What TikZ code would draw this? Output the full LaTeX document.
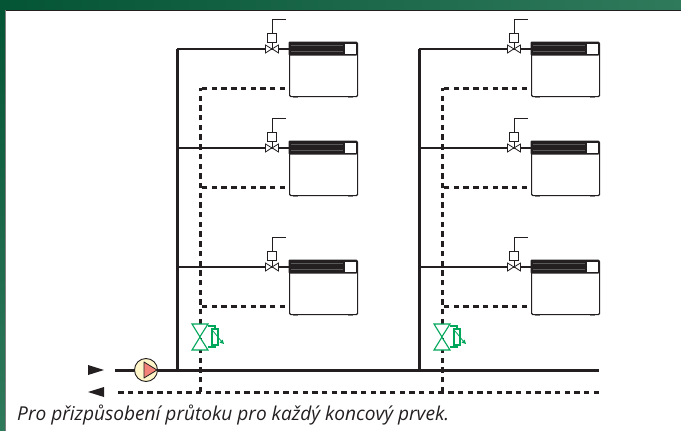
\documentclass[tikz,border=0pt]{standalone}
\usepackage{fontspec}
\setmainfont{Open Sans}
\usetikzlibrary{calc,positioning}
\definecolor{framedark}{RGB}{4,84,54}
\definecolor{framelight}{RGB}{48,122,92}
\definecolor{pipeblack}{RGB}{35,31,32}
\definecolor{valvegreen}{RGB}{0,166,90}
\definecolor{pumpcream}{RGB}{255,245,200}
\definecolor{pumpred}{RGB}{243,130,120}
\tikzset{
    supply/.style={draw=pipeblack, line width=3pt},
    return/.style={draw=pipeblack, line width=3pt, dash pattern=on 5.4pt off 4.3pt},
    thinline/.style={draw=pipeblack, line width=0.8pt},
    unitbox/.style={draw=pipeblack, line width=1.2pt, fill=white, rounded corners=1.2pt,
        minimum width=68pt, minimum height=54pt, anchor=north west, inner sep=0pt},
    flowarrow/.style={fill=pipeblack, draw=none},
    greenline/.style={draw=valvegreen, line width=1.1pt},
}
\begin{document}
\begin{tikzpicture}[x=1pt,y=-1pt]
   \useasboundingbox (0,0) rectangle (681,431);
   % frame
   \shade[left color=framedark, right color=framelight] (0,0) rectangle (681,10);
   \shade[top color=framedark, bottom color=framelight] (0,10) rectangle (5,431);
   \draw[pipeblack, line width=0.8pt] (5,10.4) -- (681,10.4);
   \draw[gray, line width=0.8pt] (5.4,10.4) -- (5.4,431);
   % main lines
   \coordinate (mainin) at (115,370);
   \coordinate (mainend) at (599,370);
   \coordinate (backout) at (115,392);
   \coordinate (backend) at (599,392);
   \draw[supply] (mainin) -- (mainend);
   \draw[return] (backend) -- (backout);
   \foreach \c/\xo in {a/0,b/242} {
     \begin{scope}[shift={(\xo,0)}]
       \coordinate (tee\c) at (177,370);
       \coordinate (drop\c) at (200,392);
       \foreach \r/\yo in {1/0,2/99,3/218} {
         \begin{scope}[shift={(0,\yo)}]
           \node[unitbox] (box\c\r) at (289,42) {};
           \coordinate (rise\c\r) at (177,49);
           \coordinate (ret\c\r) at (200,88);
           \node[inner sep=0pt, minimum size=0pt] (valve\c\r) at (272,49) {};
           \node[draw=pipeblack, line width=0.8pt, fill=white, inner sep=0pt, minimum size=9pt,
                 above=6pt of valve\c\r] (act\c\r) {};
           \coordinate (stem\c\r) at (272,19);
           \coordinate (tag\c\r) at (286,19);
           \draw[supply, line width=2.9pt] (rise\c\r) -- (valve\c\r) -- (box\c\r.west |- valve\c\r);
           \draw[thinline] (valve\c\r) -- (act\c\r);
           \draw[thinline] (act\c\r) -- (stem\c\r) -- (tag\c\r);
           \draw[thinline, fill=white] (valve\c\r) -- ++(-6.5,-4) -- ++(0,8) -- cycle;
           \draw[thinline, fill=white] (valve\c\r) -- ++(6.5,-4) -- ++(0,8) -- cycle;
           \draw[return] (ret\c\r -| box\c\r.west) ++(-4,0) -- (ret\c\r);
           % casing
           \fill[pipeblack, rounded corners=1.2pt] (288.5,41.5) rectangle (357.5,55.5);
           \draw[gray!70!black, line width=0.35pt] (291,45) -- (343,45);
           \draw[gray!70!black, line width=0.35pt] (291,51) -- (343,51);
           \fill[white] (344.5,44) rectangle (355.5,54);
           \fill[gray] (293,96.6) rectangle (298,98);
           \fill[gray] (348,96.6) rectangle (353,98);
         \end{scope}
       }
       \draw[supply] (tee\c) -- (rise\c3) -- (rise\c2) -- (rise\c1);
       \draw[return] (drop\c) -- (ret\c3) -- (ret\c2) -- (ret\c1);
       % balancing valve
       \node[inner sep=0pt, minimum size=0pt] (bal\c) at (200,337) {};
       \draw[greenline, fill=white] (bal\c) -- (192,324) -- (208,324) -- cycle;
       \draw[greenline, fill=white] (bal\c) -- (192,350) -- (208,350) -- cycle;
       \draw[greenline] (208,326) -- (215,326) -- (215,347) -- (208,347);
       \draw[greenline, fill=white] (212,329) rectangle (218,345);
       \draw[greenline, line width=0.8pt] (213,331) -- (222,342);
       \fill[valvegreen] (224,344) -- (219.5,342.5) -- (222.5,339.5) -- cycle;
     \end{scope}
   }
   % pump
   \node[circle, draw=pipeblack, line width=0.9pt, fill=pumpcream, minimum size=23pt, inner sep=0pt] (pump) at (146,370) {};
   \draw[pipeblack, line width=0.8pt, fill=pumpred, line join=round] (144,362) -- (157,370) -- (144,378) -- cycle;
   % flow direction
   \fill[flowarrow] (88,365) -- (104,370) -- (88,375) -- cycle;
   \fill[flowarrow] (104,387) -- (88,392) -- (104,397) -- cycle;
   % caption
   \node[anchor=base west, inner sep=0pt, text=pipeblack, font=\fontsize{19.1}{21}\selectfont\itshape] (caption) at (17,420)
     {Pro přizpůsobení průtoku pro každý koncový prvek.};
\end{tikzpicture}
\end{document}
